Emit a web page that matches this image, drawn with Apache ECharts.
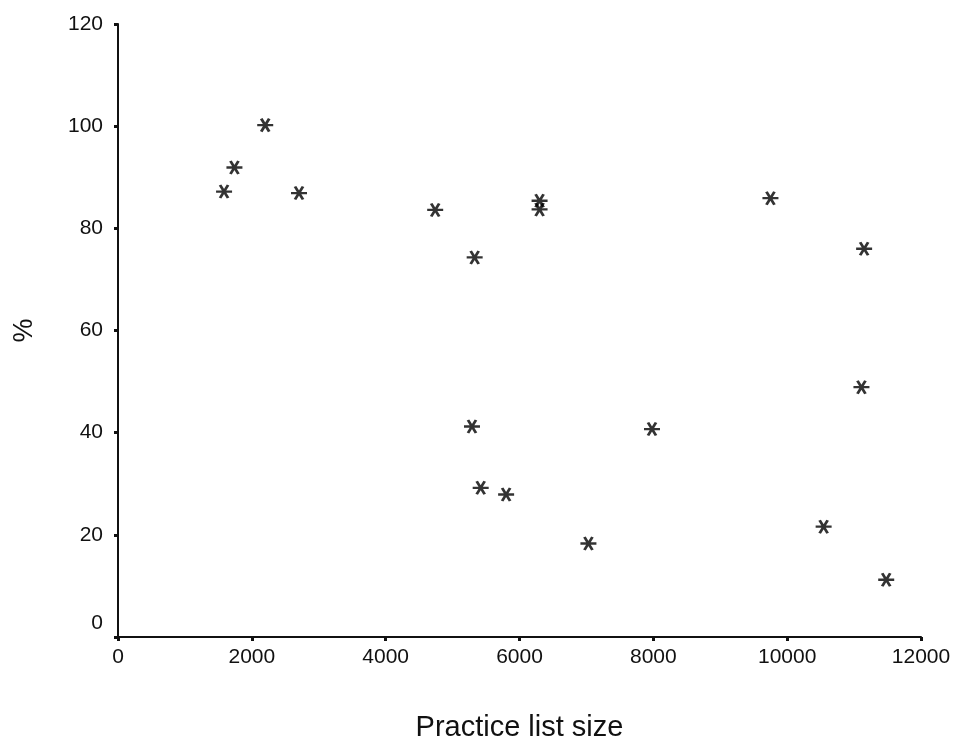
<!DOCTYPE html>
<html>
<head>
<meta charset="utf-8">
<script src="https://cdn.jsdelivr.net/npm/echarts@6/dist/echarts.min.js"></script>
<style>
  html, body { margin: 0; padding: 0; background: #fff; }
  #chart { width: 956px; height: 740px; }
</style>
</head>
<body>
<div id="chart"></div>
<script>
// Practice list size (x) against percentage (y)
const listSize = [1585, 1740, 2200, 2705, 4740, 5330, 6300, 6300, 9750, 11150,
                  5290, 7980, 5420, 5800, 7030, 11110, 10545, 11480];
const percent  = [87.2, 91.9, 100.2, 86.9, 83.6, 74.3, 85.4, 83.7, 85.9, 76.0,
                  41.2, 40.7, 29.2, 27.9, 18.3, 48.9, 21.6, 11.2];

const xTicks = [0, 2000, 4000, 6000, 8000, 10000, 12000];
const yTicks = [0, 20, 40, 60, 80, 100, 120];

const points = listSize.map((x, i) => [x, percent[i]]);

// Six-armed asterisk drawn as strokes
const asterisk = 'path://M0,6 L14,6 M3.5,0 L10.5,12 M10.5,0 L3.5,12';

const ink = '#111111';
const font = 'Liberation Sans, Arial, Helvetica, sans-serif';

const chart = echarts.init(document.getElementById('chart'), null, { renderer: 'canvas' });
chart.setOption({
  backgroundColor: '#ffffff',
  animation: false,
  grid: { left: 118, right: 35, top: 24, bottom: 103, containLabel: false, outerBoundsMode: 'none' },
  xAxis: {
    type: 'value',
    min: xTicks[0],
    max: xTicks[xTicks.length - 1],
    interval: xTicks[1] - xTicks[0],
    name: 'Practice list size',
    nameLocation: 'middle',
    nameGap: 76,
    nameTextStyle: { color: ink, fontSize: 29, fontFamily: font },
    axisLine: { show: true, onZero: false, lineStyle: { color: ink, width: 2 } },
    axisTick: { show: true, inside: false, length: 4, lineStyle: { color: ink, width: 3 } },
    axisLabel: { color: ink, fontSize: 21, fontFamily: font, margin: 10, formatter: v => String(v) },
    splitLine: { show: false }
  },
  yAxis: {
    type: 'value',
    min: yTicks[0],
    max: yTicks[yTicks.length - 1],
    interval: yTicks[1] - yTicks[0],
    name: '%',
    nameLocation: 'middle',
    nameGap: 80,
    nameTextStyle: { color: ink, fontSize: 27, fontFamily: font },
    axisLine: { show: true, onZero: false, lineStyle: { color: ink, width: 2 } },
    axisTick: { show: true, inside: false, length: 4, lineStyle: { color: ink, width: 3 } },
    axisLabel: {
      color: ink, fontSize: 21, fontFamily: font, margin: 15,
      formatter: v => (v === 0 ? '{z|0}' : String(v)),
      rich: { z: { color: ink, fontSize: 21, fontFamily: font, padding: [0, 0, 28, 0] } }
    },
    splitLine: { show: false }
  },
  series: [{
    type: 'scatter',
    data: points,
    symbol: asterisk,
    symbolSize: [16, 13],
    itemStyle: { color: 'rgba(0,0,0,0)', borderColor: '#000', borderWidth: 2.6 }
  }]
});
</script>
</body>
</html>
